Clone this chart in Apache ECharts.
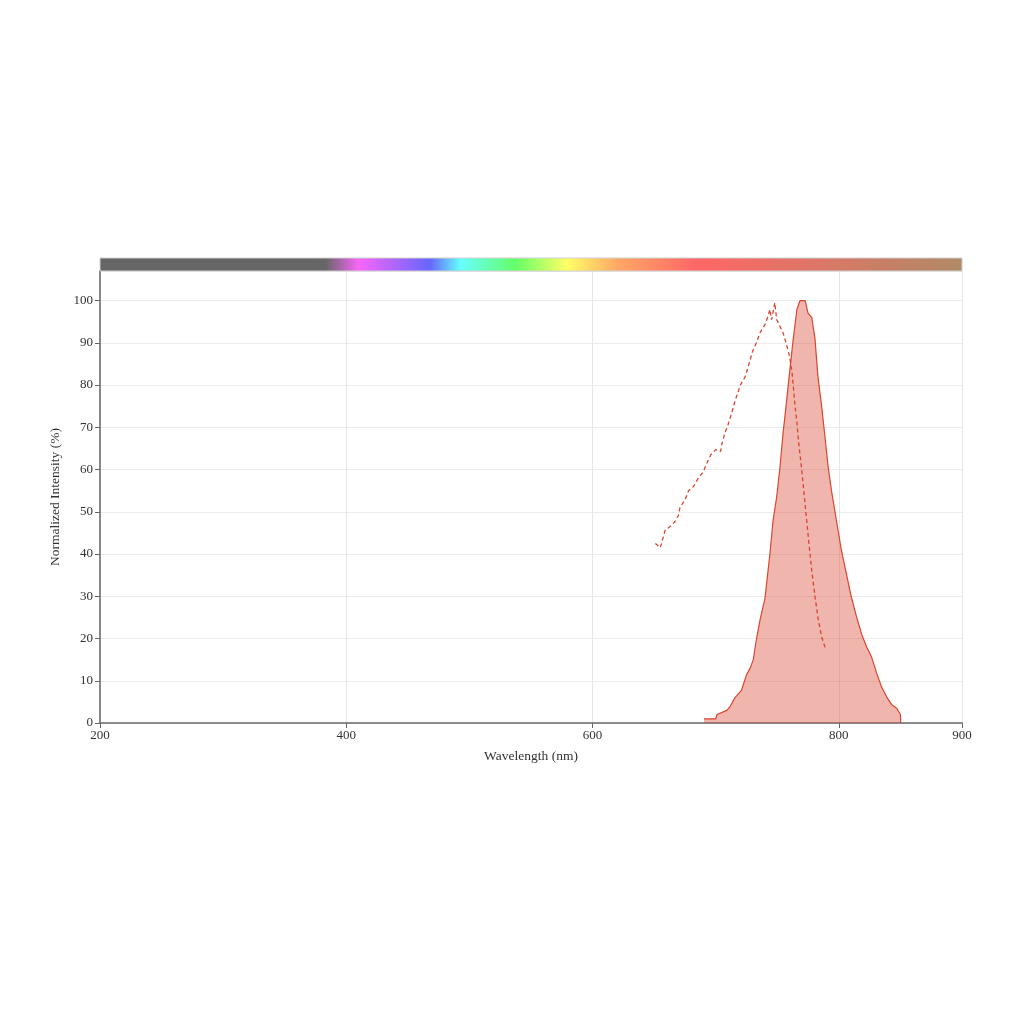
<!DOCTYPE html>
<html>
<head>
<meta charset="utf-8">
<script src="https://cdn.jsdelivr.net/npm/echarts@6/dist/echarts.min.js"></script>
<style>html,body{margin:0;padding:0;background:#fff}#c{width:1024px;height:1024px}</style>
</head>
<body>
<div id="c"></div>
<script>
// Excitation spectrum (dashed) : wavelength nm, normalized %
const exWavelength = [651,655,659,663,667,669.5,671,675,678,682,686,690,692,696,700,704,705,707.5,710,713,716,720,724,726,728,730,733,736,740,742.5,744,745.4,748,749.5,752,754.6,756.3,758,760,762,764.4,765.7,767.5,769.8,772.5,775.2,778,780.6,783.3,786,788.7,790];
const exIntensity  = [42.5,41.5,45.7,46.5,47.7,49,51,52.8,55,56,58,59.5,61,63.5,64.7,64.3,66,68.7,70.6,73.4,76.5,80,82,84,86,88,90,92.4,94.3,96.3,97.9,95.5,99.5,95.5,94,92.4,90.8,89,86.8,83,75,71.8,66,60,52,44,36,30,24.4,20.4,18,18];
// Emission spectrum (filled)
const emWavelength = [690.5,700,701,709,711.6,715.7,721,725,728,730.5,733,736,740,744,746.6,749.5,752,754.8,756,760,763,766,768.5,772.6,775,778,780.6,783,786,789,791.3,794,798,802,806,810,814.5,818.5,822.6,826.6,830.7,834.7,838.8,843,847,850,850.2];
const emIntensity  = [1,1,2,3,3.9,6,7.8,11.4,13,15,19.7,24.4,29.5,40,48,53.5,60,69,72,83,91,98,100,100,97,96,91,82,75,67,60.6,55,48,41,35.5,30,25,21,18,15.6,11.8,8.5,6.2,4.3,3.5,2,0];
// Axis ticks
const xTicks = [200,400,600,800,900];
const yTicks = [0,10,20,30,40,50,60,70,80,90,100];
// Colour bar stops: wavelength nm, colour
const barNm     = [200,383,410,468,493,538,579,620,684,900];
const barColors = ['#666666','#666666','#f766f7','#6666ff','#66ffff','#66ff66','#ffff66','#ffa866','#ff6666','#b08a66'];

const xMin = 200, xMax = 900;
const zip = (a, b) => a.map((v, i) => [v, b[i]]);
const FONT = 'Liberation Serif';
const RED = '#d9452f';

const chart = echarts.init(document.getElementById('c'), null, {renderer: 'canvas'});
const option = {
  backgroundColor: '#ffffff',
  animation: false,
  grid: {left: 100, right: 62, top: 271, bottom: 301, containLabel: false},
  xAxis: {
    type: 'value', min: xMin, max: xMax, interval: 200,
    name: 'Wavelength (nm)', nameLocation: 'middle', nameGap: 26,
    nameTextStyle: {fontFamily: FONT, fontSize: 13.5, color: '#333'},
    axisLine: {show: true, lineStyle: {color: '#666', width: 1.5}},
    axisTick: {show: true, length: 5, lineStyle: {color: '#666'}},
    axisLabel: {fontFamily: FONT, fontSize: 13, color: '#333', margin: 6,
      formatter: v => xTicks.includes(v) ? String(v) : ''},
    splitLine: {show: true, lineStyle: {color: '#e6e6e6', width: 1}}
  },
  yAxis: {
    type: 'value', min: 0, max: 107, interval: 10,
    name: 'Normalized Intensity (%)', nameLocation: 'middle', nameGap: 37,
    nameTextStyle: {fontFamily: FONT, fontSize: 13.5, color: '#333'},
    axisLine: {show: true, lineStyle: {color: '#666', width: 1.5}},
    axisTick: {show: true, length: 5, lineStyle: {color: '#666'}},
    axisLabel: {fontFamily: FONT, fontSize: 13, color: '#333', margin: 7, showMaxLabel: false,
      formatter: v => yTicks.includes(v) ? String(v) : ''},
    splitLine: {show: true, lineStyle: {color: '#ececec', width: 1}}
  },
  series: [
    {
      name: 'Emission', type: 'line', data: zip(emWavelength, emIntensity),
      showSymbol: false, symbol: 'none', smooth: false,
      lineStyle: {color: RED, width: 1.2},
      areaStyle: {color: RED, opacity: 0.4},
      z: 2
    },
    {
      name: 'Excitation', type: 'line', data: zip(exWavelength, exIntensity),
      showSymbol: false, symbol: 'none', smooth: false,
      lineStyle: {color: RED, width: 1.3, type: [4, 3]},
      z: 3
    }
  ]
};
chart.setOption(option);

// colour bar above the plot, aligned with the x axis
const p0 = chart.convertToPixel({gridIndex: 0}, [xMin, 107]);
const p1 = chart.convertToPixel({gridIndex: 0}, [xMax, 107]);
const stops = barNm.map((nm, i) => ({offset: (nm - xMin) / (xMax - xMin), color: barColors[i]}));
chart.setOption({
  graphic: [{
    type: 'rect', silent: true, z: 10,
    shape: {x: p0[0], y: p0[1] - 13, width: p1[0] - p0[0], height: 13},
    style: {fill: new echarts.graphic.LinearGradient(0, 0, 1, 0, stops), stroke: '#d0d0d0', lineWidth: 1}
  }]
});
</script>
</body>
</html>
